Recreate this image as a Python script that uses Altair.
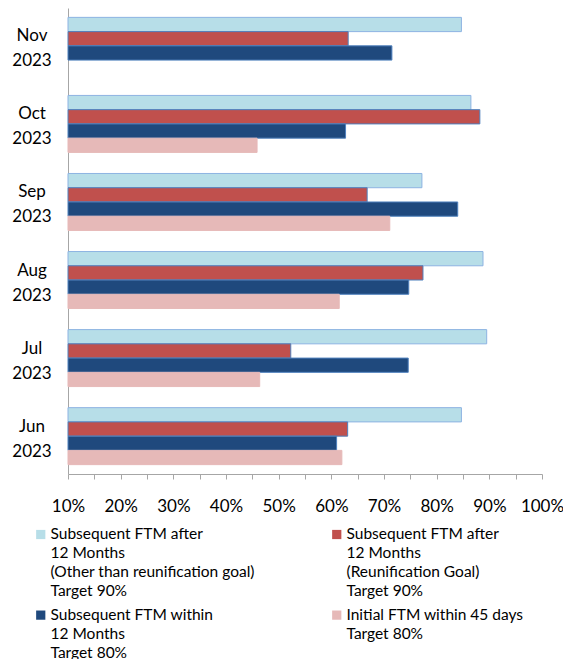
import altair as alt
import pandas as pd

months = ["Nov 2023", "Oct 2023", "Sep 2023", "Aug 2023", "Jul 2023", "Jun 2023"]
series = [
    "Subsequent FTM after|12 Months|(Other than reunification goal)|Target 90%",
    "Subsequent FTM after|12 Months|(Reunification Goal)|Target 90%",
    "Subsequent FTM within|12 Months|Target 80%",
    "Initial FTM within 45 days|Target 80%",
]
after_other = [84.7, 86.5, 77.2, 88.8, 89.5, 84.7]
after_reun = [63.2, 88.2, 66.8, 77.4, 52.3, 63.1]
within_12 = [71.5, 62.7, 84.0, 74.7, 74.6, 61.0]
initial_45 = [None, 45.9, 71.1, 61.5, 46.4, 62.0]

fills = ["#B7DEE8", "#C0504D", "#1F497D", "#E6B9B8"]
strokes = ["#8DB3E2", "#4F81BD", "#4F81BD", "#E6B9B8"]

rows = []
for s, vals in zip(series, [after_other, after_reun, within_12, initial_45]):
    for m, v in zip(months, vals):
        if v is not None:
            rows.append({"month": m, "series": s, "value": v})
df = pd.DataFrame(rows)

FONT = "Lato"

chart = alt.Chart(df).mark_bar(strokeWidth=1).encode(
    y=alt.Y("month:N", sort=months,
            scale=alt.Scale(paddingInner=0.27, paddingOuter=0.12),
            axis=alt.Axis(title=None, ticks=False, domainColor="#A6A6A6",
                          labelExpr="split(datum.label, ' ')", labelAlign="center",
                          labelBaseline="middle", labelOffset=-9.5,
                          labelPadding=36.5, labelFontSize=17, labelLineHeight=25,
                          labelColor="#000000", labelFont=FONT, labelFontWeight="normal")),
    yOffset=alt.YOffset("series:N", sort=series),
    x=alt.X("value:Q", scale=alt.Scale(domain=[10, 100], zero=False, nice=False),
            axis=alt.Axis(title=None, values=list(range(10, 101, 5)), grid=False,
                          labelExpr="datum.value % 10 == 0 ? datum.value + '%' : ''",
                          domainColor="#A6A6A6", tickColor="#A6A6A6", tickSize=5,
                          labelPadding=19, labelFontSize=17, labelColor="#000000",
                          labelFont=FONT, labelFlush=False, labelFontWeight="normal")),
    x2=alt.datum(10),
    color=alt.Color("series:N", sort=series,
                    scale=alt.Scale(domain=series, range=fills),
                    legend=alt.Legend(title=None, orient="none", direction="horizontal",
                                      legendX=-35, legendY=511,
                                      columns=2, columnPadding=74, rowPadding=-11,
                                      symbolType="M-1,0.6H1V2.6H-1Z", symbolSize=85,
                                      symbolStrokeWidth=0,
                                      labelExpr="split(datum.label, '|')",
                                      labelBaseline="top", labelFontSize=15.5,
                                      labelFont=FONT, labelColor="#000000",
                                      labelLimit=0, labelOffset=2)),
    stroke=alt.Stroke("series:N", sort=series,
                      scale=alt.Scale(domain=series, range=strokes), legend=None),
).properties(
    width=474, height=466,
    autosize=alt.AutoSizeParams(type="none"),
    padding={"left": 60, "top": 0, "right": 21, "bottom": 185},
).configure(
    view=alt.ViewConfig(stroke=None),
    style={"guide-label": {"lineHeight": 19}},
)

chart.save("out.html", embed_options={"renderer": "svg", "actions": False})
